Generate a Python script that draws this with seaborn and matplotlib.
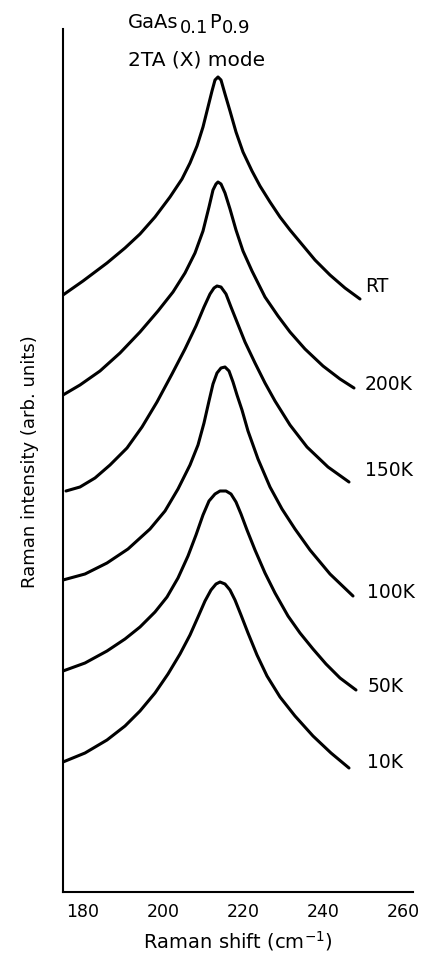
import matplotlib
matplotlib.use("Agg")
import matplotlib.pyplot as plt
import seaborn as sns
import pandas as pd

# Raman spectra of GaAs0.1P0.9, 2TA(X) mode, stacked with vertical offsets
temperatures = ["RT", "200K", "150K", "100K", "50K", "10K"]

shift_rt = [175.0, 180.0, 186.0, 190.5, 194.25, 198.0, 201.75, 204.75, 206.75, 208.5,
            210.0, 211.25, 212.25, 213.0, 213.75, 214.5, 215.5, 216.75, 218.25, 220.0,
            222.25, 224.25, 226.75, 229.25, 231.75, 234.25, 238.0, 241.75, 245.5, 249.25]
int_rt = [5.97, 6.11, 6.29, 6.44, 6.58, 6.75, 6.95, 7.13, 7.29, 7.46,
          7.65, 7.85, 8.01, 8.12, 8.15, 8.12, 7.98, 7.81, 7.60, 7.40,
          7.21, 7.06, 6.90, 6.75, 6.62, 6.50, 6.32, 6.17, 6.04, 5.93]

shift_200 = [175.0, 179.25, 184.25, 189.25, 194.25, 198.75, 202.5, 205.5, 208.0, 210.0,
             211.5, 212.5, 213.25, 213.75, 214.5, 215.5, 216.75, 218.25, 220.0, 222.25,
             225.5, 228.75, 231.75, 235.5, 240.0, 244.25, 247.75]
int_200 = [4.97, 5.07, 5.21, 5.39, 5.60, 5.81, 6.00, 6.19, 6.39, 6.61,
           6.85, 7.02, 7.08, 7.10, 7.08, 6.99, 6.83, 6.62, 6.41, 6.21,
           5.95, 5.76, 5.60, 5.43, 5.26, 5.13, 5.04]

shift_150 = [175.75, 179.25, 183.0, 186.75, 191.0, 194.75, 198.5, 202.25, 205.5, 208.25,
             210.25, 211.75, 212.75, 213.5, 214.5, 215.75, 217.0, 218.5, 220.5, 223.0,
             225.5, 228.0, 231.75, 236.0, 241.25, 246.5]
int_150 = [4.01, 4.05, 4.14, 4.27, 4.44, 4.65, 4.90, 5.18, 5.43, 5.66,
           5.85, 5.98, 6.04, 6.06, 6.05, 5.98, 5.85, 5.70, 5.50, 5.29,
           5.09, 4.91, 4.67, 4.45, 4.25, 4.10]

shift_100 = [175.0, 180.5, 186.0, 191.25, 196.75, 200.5, 203.75, 206.75, 208.75, 210.25,
             211.5, 212.5, 213.5, 214.5, 215.5, 216.5, 217.5, 218.5, 219.75, 221.25,
             223.75, 226.75, 229.75, 233.0, 236.75, 241.75, 247.5]
int_100 = [3.12, 3.18, 3.29, 3.43, 3.63, 3.81, 4.03, 4.27, 4.47, 4.69,
           4.91, 5.08, 5.19, 5.24, 5.25, 5.21, 5.10, 4.97, 4.82, 4.61,
           4.33, 4.05, 3.83, 3.63, 3.42, 3.18, 2.96]

shift_50 = [175.0, 180.5, 186.0, 190.5, 194.25, 198.0, 201.0, 203.75, 206.25, 208.25,
            210.0, 211.5, 213.0, 214.25, 215.75, 217.0, 218.25, 219.5, 221.0, 223.0,
            225.5, 228.0, 231.25, 234.25, 237.5, 240.75, 244.25, 248.25]
int_50 = [2.21, 2.29, 2.41, 2.53, 2.65, 2.80, 2.95, 3.14, 3.36, 3.57,
          3.77, 3.91, 3.98, 4.01, 4.01, 3.98, 3.90, 3.78, 3.62, 3.42,
          3.19, 2.99, 2.76, 2.59, 2.43, 2.28, 2.14, 2.02]

shift_10 = [175.0, 180.5, 186.0, 190.5, 194.25, 198.0, 201.25, 204.25, 206.75, 208.75,
            210.5, 212.0, 213.25, 214.25, 215.5, 216.75, 218.0, 219.5, 221.25, 223.5,
            226.0, 229.25, 233.0, 237.5, 242.0, 246.5]
int_10 = [1.30, 1.39, 1.52, 1.66, 1.81, 1.99, 2.18, 2.38, 2.57, 2.75,
          2.91, 3.02, 3.08, 3.10, 3.08, 3.02, 2.92, 2.77, 2.59, 2.37,
          2.16, 1.95, 1.76, 1.56, 1.39, 1.24]

x_ticks = [180, 200, 220, 240, 260]

shifts = [shift_rt, shift_200, shift_150, shift_100, shift_50, shift_10]
intensities = [int_rt, int_200, int_150, int_100, int_50, int_10]

frames = []
for name, xs, ys in zip(temperatures, shifts, intensities):
    frames.append(pd.DataFrame({"shift": xs, "intensity": ys, "temp": name}))
df = pd.concat(frames, ignore_index=True)

sns.set_style("white")
plt.rcParams["font.family"] = ["DejaVu Sans"]
plt.rcParams["mathtext.fontset"] = "dejavusans"
plt.rcParams["text.color"] = "black"
plt.rcParams["axes.labelcolor"] = "black"
plt.rcParams["xtick.color"] = "black"

W, H = 422, 954
fig = plt.figure(figsize=(W / 100, H / 100), dpi=100)
ax = fig.add_axes([63 / W, 1 - 893 / H, 350 / W, 863 / H])

sns.lineplot(data=df, x="shift", y="intensity", units="temp", estimator=None,
             sort=False, color="black", linewidth=2.2, ax=ax, legend=False)

ax.set_xlim(175, 262.5)
ax.set_ylim(0, 8.63)
ax.set_xticks(x_ticks)
ax.set_xticklabels([str(t) for t in x_ticks], fontsize=12.5)
ax.set_yticks([])
ax.tick_params(axis="x", direction="in", length=6, width=1.5, pad=7)

for side in ("top", "right"):
    ax.spines[side].set_visible(False)
for side in ("left", "bottom"):
    ax.spines[side].set_color("black")
    ax.spines[side].set_linewidth(1.5)

ax.set_xlabel("Raman shift (cm$^{-1}$)", fontsize=14, labelpad=6)
ax.set_ylabel("Raman intensity (arb. units)", fontsize=13, labelpad=17)

# temperature labels beside the right end of each spectrum (pixel layout)
label_pos = [(365, 286), (365, 384), (365, 471), (367, 593), (368, 687), (367, 763)]
for name, (px, py) in zip(temperatures, label_pos):
    fig.text(px / W, 1 - py / H, name, fontsize=13.5, ha="left", va="center")

# sample name with lowered composition indices, built piece by piece
renderer = fig.canvas.get_renderer()
cursor = 128
for piece, base in [("GaAs", 28), ("0.1", 33), ("P", 28), ("0.9", 33)]:
    t = fig.text(cursor / W, 1 - base / H, piece, fontsize=14 if base == 28 else 13,
                 ha="left", va="baseline")
    cursor = t.get_window_extent(renderer).x1 + 1

fig.text(128 / W, 1 - 65 / H, "2TA (X) mode", fontsize=14.5, ha="left", va="baseline")

fig.savefig("out.png", dpi=100, facecolor="white")
